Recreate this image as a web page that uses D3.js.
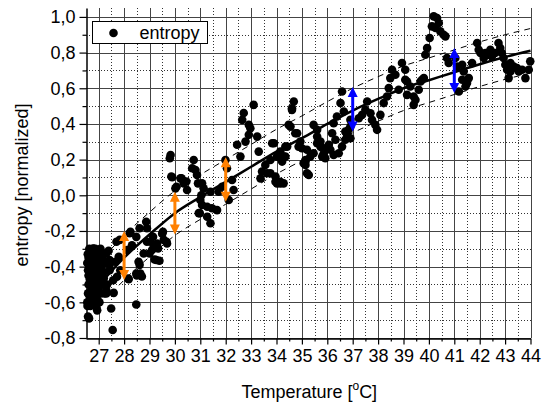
<!DOCTYPE html>
<html>
<head>
<meta charset="utf-8">
<script src="https://cdn.jsdelivr.net/npm/d3@7"></script>
<style>
  body { margin: 0; background: #fff; }
  text { font-family: "Liberation Sans", Arial, sans-serif; fill: #000; }
</style>
</head>
<body>
<div id="chart"></div>
<script>

// scatter: [temperature, entropy]
var entropyData = [
  // dense start around 26.5 - 27.3
  [26.55,-0.60],[26.58,-0.55],[26.6,-0.50],[26.6,-0.45],[26.62,-0.40],[26.6,-0.35],[26.65,-0.57],
  [26.65,-0.47],[26.68,-0.42],[26.7,-0.38],[26.7,-0.33],[26.72,-0.52],[26.75,-0.60],[26.75,-0.45],
  [26.78,-0.40],[26.8,-0.36],[26.8,-0.30],[26.82,-0.55],[26.85,-0.49],[26.86,-0.43],[26.9,-0.34],
  [26.9,-0.39],[26.92,-0.58],[26.95,-0.47],[26.97,-0.52],[27.0,-0.31],[27.0,-0.42],[27.02,-0.37],
  [27.05,-0.48],[27.08,-0.55],[27.1,-0.40],[27.12,-0.45],[27.15,-0.34],[27.18,-0.50],[27.2,-0.43],
  [26.56,-0.62],[26.58,-0.42],[26.63,-0.30],[26.67,-0.62],[26.73,-0.48],[26.77,-0.56],[26.87,-0.62],
  [26.94,-0.44],[27.03,-0.60],[27.25,-0.38],[27.22,-0.55],[26.55,-0.38],[26.57,-0.33],
  [26.62,-0.69],[27.55,-0.755],[27.49,-0.635],[26.94,-0.645],[28.48,-0.612],[27.59,-0.547],
  [27.3,-0.532],[26.96,-0.59],[27.39,-0.311],[27.72,-0.457],[28.18,-0.47],[27.66,-0.373],
  [27.79,-0.345],[27.7,-0.26],[28.25,-0.205],[28.48,-0.233],[28.57,-0.373],[28.64,-0.438],
  [28.7,-0.455],[28.77,-0.326],[28.87,-0.148],[28.9,-0.185],[29.04,-0.26],[29.1,-0.307],
  [29.2,-0.36],[29.3,-0.27],[29.39,-0.367],[29.5,-0.215],[29.56,-0.25],[29.69,-0.27],
  [29.17,-0.29],[28.9,-0.26],[28.12,-0.307],[28.31,-0.28],[27.85,-0.42],[27.07,-0.43],
  [27.2,-0.465],[27.33,-0.50],[26.87,-0.30],[27.07,-0.30],[27.2,-0.37],[27.43,-0.39],
  [28.22,-0.213],[27.83,-0.25],[28.61,-0.185],[29.14,-0.232],[29.53,-0.205],[29.67,-0.26],
  [29.34,-0.298],[29.0,-0.326],[29.27,-0.363],[28.61,-0.39],[28.48,-0.438],[28.5,-0.45],
  [28.16,-0.467],[27.3,-0.326],[27.43,-0.363],[27.04,-0.307],[26.78,-0.298],[27.43,-0.42],
  [27.57,-0.476],[27.24,-0.504],[27.3,-0.55],[26.91,-0.626],[26.58,-0.68],
  // 29.8 - 32.5
  [29.86,0.105],[30.26,0.095],[30.45,0.077],[30.06,0.048],[30.91,0.067],[31.04,0.0],[30.98,-0.10],
  [29.83,0.226],[29.8,0.208],[29.89,0.101],[30.22,0.095],[30.35,0.067],[30.48,0.03],[30.02,0.039],
  [30.74,0.198],[30.68,0.152],[30.81,0.142],[30.87,0.114],[31.07,0.067],[31.13,0.039],[31.0,-0.026],
  [31.07,-0.054],[30.94,-0.10],[31.27,-0.064],[31.46,-0.073],[31.66,-0.083],[31.27,-0.12],
  [31.4,-0.157],[31.4,0.02],[31.72,0.02],[31.86,0.048],[31.99,0.198],[32.05,0.152],[32.25,0.086],
  [32.31,0.03],[32.12,-0.026],
  // 32.4 - 35.3
  [32.45,0.283],[32.58,0.217],[32.65,0.423],[32.71,0.461],[32.91,0.395],[32.97,0.376],[33.1,0.507],
  [32.78,0.301],[32.91,0.339],[33.24,0.329],[33.3,0.245],[33.76,0.198],[33.83,0.292],[33.43,0.133],
  [33.37,0.095],[33.63,0.124],[33.56,0.17],[34.02,0.217],[34.15,0.245],[33.96,0.105],[34.02,0.067],
  [34.15,0.067],[34.35,0.217],[34.22,0.189],[34.42,0.273],[34.55,0.385],[34.61,0.479],[34.68,0.526],
  [34.81,0.348],[34.87,0.273],[34.94,0.301],[35.2,0.255],[35.14,0.189],[35.2,0.124],
  [33.9,0.292],[34.28,0.217],[34.28,0.067],[34.48,0.395],[34.61,0.488],[34.74,0.348],
  [35.0,0.264],[35.07,0.18],[35.14,0.198],[33.76,0.124],[33.96,0.076],[34.15,0.076],[35.14,0.17],
  [35.27,0.114],[34.35,0.273],
  // 35.4 - 37
  [35.46,0.395],[35.6,0.367],[35.6,0.292],[35.73,0.273],[35.86,0.236],[35.8,0.217],[36.06,0.283],
  [36.12,0.255],[36.19,0.348],[36.32,0.311],[36.25,0.404],[36.38,0.442],[36.52,0.517],[36.58,0.582],
  [36.65,0.47],[36.78,0.339],[36.71,0.357],[36.91,0.385],[36.91,0.423],[35.6,0.329],[35.73,0.301],
  [35.92,0.264],[35.46,0.236],[35.33,0.217],[35.92,0.208],[36.25,0.226],[36.45,0.236],[36.58,0.273],
  [36.71,0.311],[36.91,0.32],[36.84,0.367],
  // 37 - 40.5
  [37.24,0.432],[37.37,0.451],[37.5,0.479],[37.57,0.526],[37.7,0.46],[37.76,0.423],[37.89,0.395],
  [37.96,0.367],[38.09,0.451],[38.22,0.517],[38.35,0.554],[38.42,0.601],[38.48,0.657],[38.55,0.704],
  [38.68,0.676],[38.81,0.592],[38.94,0.742],[39.07,0.704],[39.07,0.648],[39.14,0.638],[39.27,0.61],
  [39.14,0.563],[39.4,0.554],[39.47,0.535],[39.4,0.507],[39.6,0.592],[39.73,0.648],[39.8,0.657],
  [39.67,0.638],[39.86,0.788],[39.93,0.826],[40.03,0.882],[40.12,0.947],[40.19,1.003],[40.32,0.994],
  [40.39,0.966],[40.26,0.938],[40.45,0.919],[40.58,0.90],[40.65,0.891],[40.71,0.77],[40.78,0.742],
  // 41 - 44
  [41.04,0.77],[41.11,0.722],[41.31,0.732],[41.37,0.694],[41.5,0.629],[41.31,0.648],[41.44,0.61],
  [41.18,0.582],[41.57,0.657],[41.7,0.742],[41.9,0.854],[41.96,0.816],[42.03,0.798],[42.16,0.77],
  [42.22,0.798],[42.35,0.788],[42.42,0.816],[42.48,0.779],[42.61,0.798],[42.74,0.854],[42.81,0.826],
  [42.87,0.798],[42.94,0.77],[43.01,0.732],[43.08,0.704],[43.14,0.657],[43.21,0.742],[43.34,0.722],
  [43.47,0.713],[43.54,0.694],[43.67,0.704],[43.8,0.657],[43.93,0.704],[43.99,0.751],[43.21,0.694]
];

// fitted curve and its band
var fitTemp   = [27.1, 28, 29, 30, 31, 32, 33, 34, 35, 36, 37, 38, 39, 40, 41, 42, 43, 44];
var fitValue  = [-0.49, -0.35, -0.22, -0.10, -0.01, 0.075, 0.16, 0.245, 0.32, 0.40, 0.475, 0.54, 0.60, 0.645, 0.69, 0.735, 0.775, 0.81];
var bandTemp  = [27.5, 28, 29, 30, 31, 32, 33, 34, 35, 36, 37, 38, 39, 40, 41, 42, 43, 44];
var bandUpper = [-0.30, -0.225, -0.095, 0.025, 0.115, 0.20, 0.285, 0.37, 0.445, 0.525, 0.60, 0.665, 0.725, 0.77, 0.815, 0.86, 0.90, 0.935];
var bandLower = [-0.55, -0.475, -0.345, -0.225, -0.135, -0.05, 0.035, 0.12, 0.195, 0.275, 0.35, 0.415, 0.475, 0.52, 0.565, 0.61, 0.65, 0.685];

// double arrows
var arrowTemp   = [28, 30, 32, 37, 41];
var arrowTop    = [-0.20, 0.02, 0.213, 0.607, 0.826];
var arrowBottom = [-0.475, -0.22, -0.036, 0.357, 0.573];
var arrowColor  = ["#ff8000", "#ff8000", "#ff8000", "#0000ff", "#0000ff"];

var xTicks = d3.range(27, 45);
var yTicks = [-0.8, -0.6, -0.4, -0.2, 0.0, 0.2, 0.4, 0.6, 0.8, 1.0];

var width = 542, height = 403;
var plotLeft = 86, plotRight = 530.5, plotTop = 8, plotBottom = 338;

var svg = d3.select("#chart").append("svg")
            .attr("width", width)
            .attr("height", height);

var x = d3.scaleLinear().domain([26.5, 44]).range([plotLeft, plotRight]);
var y = d3.scaleLinear().domain([-0.8, 1.05]).range([plotBottom, plotTop]);

var fmt = d => d3.format(".1f")(d).replace(".", ",").replace("−", "-");

// grid
var grid = svg.append("g").attr("shape-rendering", "crispEdges");

grid.selectAll(".vminor")
    .data(d3.range(27.5, 44, 1))
    .enter().append("line")
    .attr("x1", d => Math.round(x(d)) + 0.5).attr("x2", d => Math.round(x(d)) + 0.5)
    .attr("y1", plotTop).attr("y2", plotBottom)
    .attr("stroke", "#333").attr("stroke-dasharray", "1,2");

grid.selectAll(".hminor")
    .data(d3.range(-0.7, 1.0, 0.2))
    .enter().append("line")
    .attr("x1", plotLeft).attr("x2", plotRight)
    .attr("y1", d => Math.round(y(d)) + 0.5).attr("y2", d => Math.round(y(d)) + 0.5)
    .attr("stroke", "#333").attr("stroke-dasharray", "1,2");

grid.selectAll(".vmajor")
    .data(xTicks)
    .enter().append("line")
    .attr("x1", d => Math.round(x(d)) + 0.5).attr("x2", d => Math.round(x(d)) + 0.5)
    .attr("y1", plotTop).attr("y2", plotBottom)
    .attr("stroke", "#444");

grid.selectAll(".hmajor")
    .data(yTicks)
    .enter().append("line")
    .attr("x1", plotLeft).attr("x2", plotRight)
    .attr("y1", d => Math.round(y(d)) + 0.5).attr("y2", d => Math.round(y(d)) + 0.5)
    .attr("stroke", "#444");

// axes
svg.append("g")
    .attr("transform", "translate(0," + (plotBottom + 0.5) + ")")
    .call(d3.axisBottom(x).tickValues(xTicks).tickSize(6).tickSizeOuter(0).tickPadding(5).tickFormat(d3.format("d")));

svg.append("g")
    .attr("transform", "translate(0," + (plotBottom + 0.5) + ")")
    .call(d3.axisBottom(x).tickValues(d3.range(27.5, 44, 1)).tickSize(3).tickSizeOuter(0).tickFormat(""))
    .select(".domain").remove();

svg.append("g")
    .attr("transform", "translate(" + (plotLeft + 0.5) + ",0)")
    .call(d3.axisLeft(y).tickValues(yTicks).tickSize(7).tickSizeOuter(0).tickPadding(4).tickFormat(fmt));

svg.append("g")
    .attr("transform", "translate(" + (plotLeft + 0.5) + ",0)")
    .call(d3.axisLeft(y).tickValues(d3.range(-0.7, 1.0, 0.2)).tickSize(4).tickSizeOuter(0).tickFormat(""))
    .select(".domain").remove();

svg.selectAll(".tick line").attr("stroke", "#000").attr("stroke-width", 1.2);
svg.selectAll(".domain").attr("stroke", "#000").attr("stroke-width", 1.5);
svg.selectAll(".tick text")
   .attr("font-family", "Liberation Sans, Arial, sans-serif")
   .attr("font-size", 18)
   .attr("fill", "#000");

// scatter
svg.append("g")
   .selectAll("circle")
   .data(entropyData)
   .enter().append("circle")
   .attr("cx", d => x(d[0]))
   .attr("cy", d => y(d[1]))
   .attr("r", 4.3)
   .attr("fill", "#000");

// fit + band
var line = d3.line().curve(d3.curveMonotoneX);

svg.append("path")
   .attr("d", line(fitTemp.map((t, i) => [x(t), y(fitValue[i])])))
   .attr("fill", "none").attr("stroke", "#000").attr("stroke-width", 2.5);

[bandUpper, bandLower].forEach(function(band) {
  svg.append("path")
     .attr("d", line(bandTemp.map((t, i) => [x(t), y(band[i])])))
     .attr("fill", "none").attr("stroke", "#000").attr("stroke-width", 1)
     .attr("stroke-dasharray", "6,5");
});

// arrows
var head = 10, half = 5;
arrowTemp.forEach(function(t, i) {
  var ax = x(t), y0 = y(arrowTop[i]), y1 = y(arrowBottom[i]);
  var g = svg.append("g").attr("fill", arrowColor[i]).attr("stroke", arrowColor[i]);
  g.append("line")
   .attr("x1", ax).attr("x2", ax)
   .attr("y1", y0 + head - 1).attr("y2", y1 - head + 1)
   .attr("stroke-width", 3);
  g.append("path")
   .attr("stroke", "none")
   .attr("d", "M" + ax + "," + y0 + "L" + (ax + half) + "," + (y0 + head) + "L" + (ax - half) + "," + (y0 + head) + "Z");
  g.append("path")
   .attr("stroke", "none")
   .attr("d", "M" + ax + "," + y1 + "L" + (ax + half) + "," + (y1 - head) + "L" + (ax - half) + "," + (y1 - head) + "Z");
});

// legend
var legend = svg.append("g").attr("transform", "translate(92.5,21.5)");
legend.append("rect")
      .attr("width", 115).attr("height", 22)
      .attr("fill", "#fff").attr("stroke", "#000");
legend.append("circle").attr("cx", 21).attr("cy", 11.5).attr("r", 4.3).attr("fill", "#000");
legend.append("text").attr("x", 47).attr("y", 17.5).attr("font-size", 18).text("entropy");

// titles
var xt = svg.append("text")
   .attr("x", (plotLeft + plotRight) / 2 + 1)
   .attr("y", 398)
   .attr("text-anchor", "middle")
   .attr("font-size", 18);
xt.append("tspan").text("Temperature [");
xt.append("tspan").attr("font-size", 12).attr("dy", -8).text("o");
xt.append("tspan").attr("dy", 8).text("C]");

svg.append("text")
   .attr("transform", "translate(28,185) rotate(-90)")
   .attr("text-anchor", "middle")
   .attr("font-size", 18)
   .text("entropy [normalized]");

</script>
</body>
</html>
